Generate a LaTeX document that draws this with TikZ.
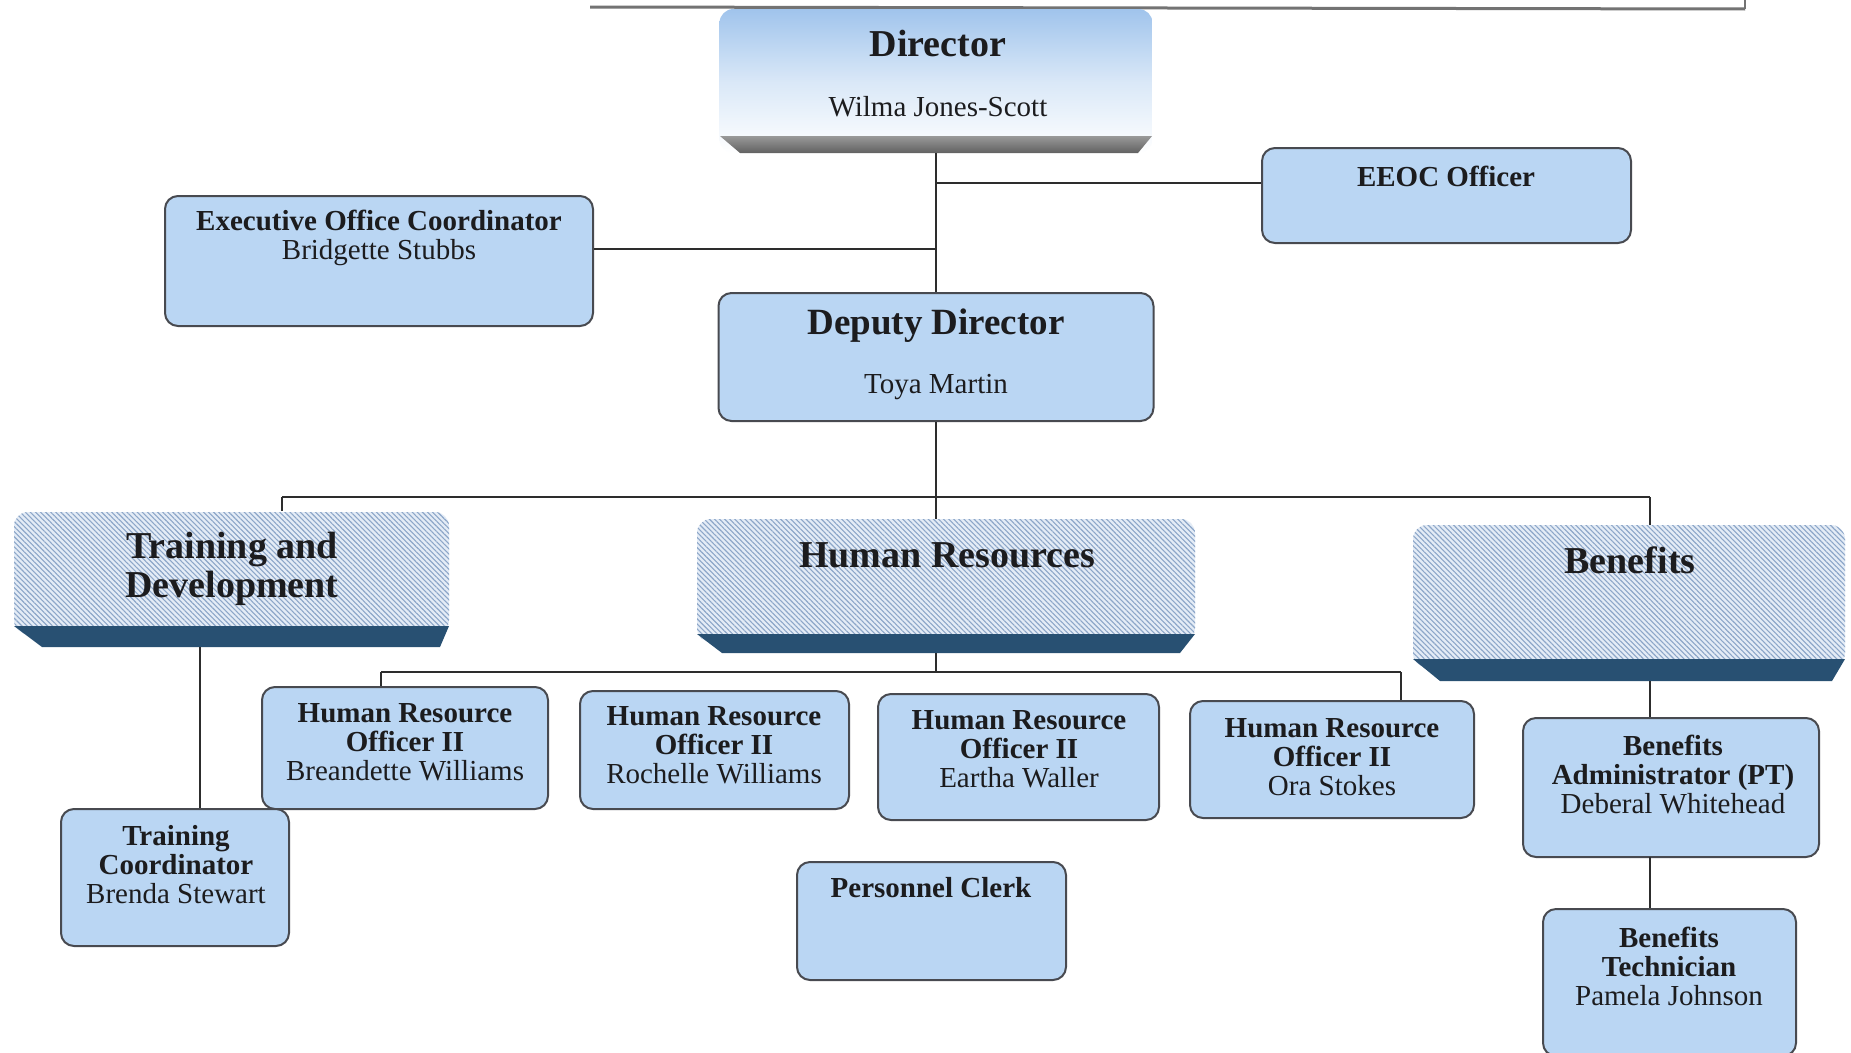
\documentclass[tikz,border=0pt]{standalone}
\usepackage{fontspec}
\setmainfont{Liberation Serif}
\usetikzlibrary{patterns.meta}
\definecolor{boxblue}{RGB}{186,214,243}
\definecolor{boxline}{RGB}{72,74,80}
\definecolor{hdrbg}{RGB}{228,236,246}
\definecolor{hatch}{RGB}{140,166,200}
\definecolor{hdrbase}{RGB}{40,80,114}
\definecolor{dirtop}{RGB}{160,196,236}
\definecolor{conn}{RGB}{45,45,45}
\definecolor{txt}{RGB}{28,28,30}
\begin{document}
\begin{tikzpicture}[x=1pt,y=-1pt,
  box/.style={draw=boxline,line width=2pt,rounded corners=13pt,fill=boxblue,inner sep=0pt},
  hdr/.style={rounded corners=14pt,inner sep=0pt,preaction={fill=hdrbg},
    pattern={Lines[angle=-45,distance=3.6pt,line width=1.1pt]},pattern color=hatch},
  hbase/.style={fill=hdrbase},
  ttl/.style={font=\bfseries\fontsize{38}{39}\selectfont,align=center,inner sep=0pt,text=txt},
  lbl/.style={font=\fontsize{29}{29}\selectfont,align=center,inner sep=0pt,text=txt},
  link/.style={draw=conn,line width=2pt}]
\useasboundingbox (0,0) rectangle (1851,1052);
\fill[white] (0,0) rectangle (1851,1052);

% cut-off frame at the top
\draw[line width=3pt,black!55] (590,7) -- (1745,9);
\draw[line width=2pt,black!55] (1745,0) -- (1745,9);

% Director
\node[minimum width=433pt,minimum height=144pt,rounded corners=14pt,inner sep=0pt,
      top color=dirtop,bottom color=white,middle color=dirtop!40] (dir) at (936,81) {};
\shade[top color=black!40,bottom color=black!62] (720,136) -- (1152,136) -- (1138,153) -- (740,153) -- cycle;
\node[ttl] (dirT) at (938,44) {Director};
\node[lbl] (dirN) at (938,107) {Wilma Jones-Scott};

% EEOC and Executive Office Coordinator
\node[box,minimum width=369pt,minimum height=95pt] (eeoc) at (1446.5,195.5) {};
\node[lbl,font=\bfseries\fontsize{29}{29}\selectfont] (eeocT) at (1446,176) {EEOC Officer};
\node[box,minimum width=428pt,minimum height=130pt] (exec) at (379,261) {};
\node[lbl] (execT) at (379,238) {\textbf{Executive Office Coordinator}\\Bridgette Stubbs};

% Deputy Director
\node[box,minimum width=435pt,minimum height=128pt] (dep) at (936,357) {};
\node[ttl,font=\bfseries\fontsize{37}{37}\selectfont] (depT) at (936,326) {Deputy Director};
\node[lbl] (depN) at (936,387) {Toya Martin};

% Department headers
\node[hdr,minimum width=435pt,minimum height=122pt] (td) at (231.5,573) {};
\fill[hbase] (14,626) -- (449,626) -- (440,647) -- (42,647) -- cycle;
\node[ttl] (tdT) at (232,569) {Training and\\Development};

\node[hdr,minimum width=498pt,minimum height=123pt] (hr) at (946,580.5) {};
\fill[hbase] (697,634) -- (1195,634) -- (1180,653) -- (722,653) -- cycle;
\node[ttl] (hrT) at (947,555) {Human Resources};

\node[hdr,minimum width=432pt,minimum height=142pt] (ben) at (1629,596) {};
\fill[hbase] (1413,659) -- (1845,659) -- (1832,681) -- (1440,681) -- cycle;
\node[ttl] (benT) at (1630,560) {Benefits};

% Staff boxes
\node[box,minimum width=286pt,minimum height=122pt] (hro1) at (405,748) {};
\node[lbl] (hro1T) at (405,742) {\textbf{Human Resource}\\\textbf{Officer II}\\Breandette Williams};
\node[box,minimum width=269pt,minimum height=118pt] (hro2) at (714.5,750) {};
\node[lbl] (hro2T) at (714,745) {\textbf{Human Resource}\\\textbf{Officer II}\\Rochelle Williams};
\node[box,minimum width=281pt,minimum height=126pt] (hro3) at (1018.5,757) {};
\node[lbl] (hro3T) at (1019,749) {\textbf{Human Resource}\\\textbf{Officer II}\\Eartha Waller};
\node[box,minimum width=284pt,minimum height=117pt] (hro4) at (1332,759.5) {};
\node[lbl] (hro4T) at (1332,757) {\textbf{Human Resource}\\\textbf{Officer II}\\Ora Stokes};

\node[box,minimum width=296pt,minimum height=139pt] (badm) at (1671,787.5) {};
\node[lbl] (badmT) at (1673,774) {\textbf{Benefits}\\\textbf{Administrator (PT)}\\Deberal Whitehead};
\node[box,minimum width=253pt,minimum height=147pt] (btech) at (1669.5,982.5) {};
\node[lbl] (btechT) at (1669,966) {\textbf{Benefits}\\\textbf{Technician}\\Pamela Johnson};

\node[box,minimum width=228pt,minimum height=137pt] (tcoord) at (175,877.5) {};
\node[lbl] (tcoordT) at (176,865) {\textbf{Training}\\\textbf{Coordinator}\\Brenda Stewart};

\node[box,minimum width=269pt,minimum height=118pt] (pclerk) at (931.5,921) {};
\node[lbl,font=\bfseries\fontsize{29}{29}\selectfont] (pclerkT) at (931,888) {Personnel Clerk};

% Connectors
\coordinate (j1) at (936,183);
\coordinate (j2) at (936,249);
\draw[link] (dir.south) -- (dep.north);
\draw[link] (j1) -- (j1 -| eeoc.west);
\draw[link] (j2) -- (j2 -| exec.east);

\coordinate (bus1) at (936,497);
\coordinate (bus1L) at (282,497);
\coordinate (bus1R) at (1650,497);
\draw[link] (dep.south) -- (bus1);
\draw[link] (bus1L) -- (bus1R);
\draw[link] (bus1L) -- (bus1L |- td.north);
\draw[link] (bus1) -- (bus1 |- hr.north);
\draw[link] (bus1R) -- (bus1R |- ben.north);

\coordinate (tdb) at (200,647);
\draw[link] (tdb) -- (tdb |- tcoord.north);

\coordinate (hrb) at (936,653);
\coordinate (bus2) at (936,672);
\coordinate (bus2L) at (381,672);
\coordinate (bus2R) at (1401,672);
\draw[link] (hrb) -- (bus2);
\draw[link] (bus2L) -- (bus2R);
\draw[link] (bus2L) -- (bus2L |- hro1.north);
\draw[link] (bus2R) -- (bus2R |- hro4.north);

\coordinate (benb) at (1650,681);
\coordinate (badmb) at (1650,857);
\draw[link] (benb) -- (benb |- badm.north);
\draw[link] (badmb) -- (badmb |- btech.north);
\end{tikzpicture}
\end{document}
